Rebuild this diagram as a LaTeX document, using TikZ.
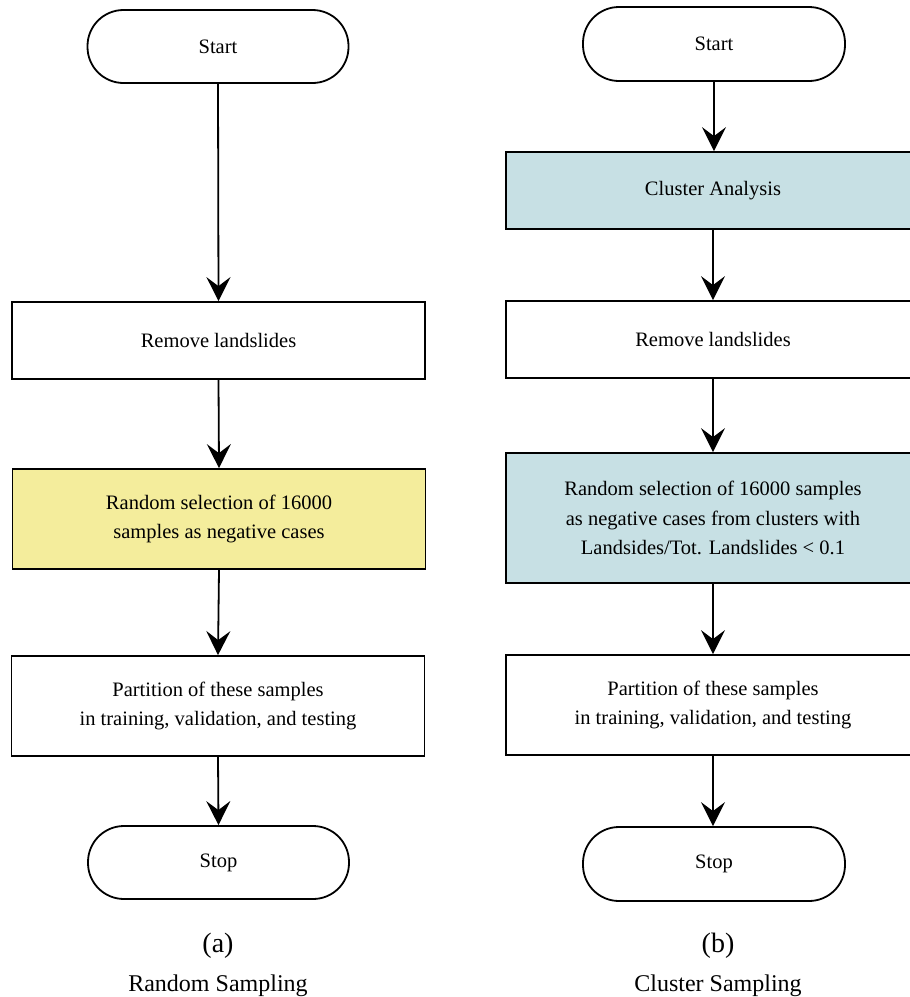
\documentclass[tikz,border=0pt]{standalone}
\usepackage{fontspec}
\setmainfont{Liberation Serif}
\usetikzlibrary{arrows.meta}
\definecolor{boxyellow}{RGB}{244,237,156}
\definecolor{boxblue}{RGB}{199,224,228}
\tikzset{
  base/.style={draw=black, line width=1.8pt, align=center, inner sep=0pt,
    font=\fontsize{20.5}{29.5}\selectfont},
  pill/.style={base, rounded corners=36pt, minimum width=261pt, minimum height=73pt},
  procbox/.style={base, minimum width=413pt},
  flow/.style={line width=1.8pt, -{Stealth[length=24pt, width=24pt, inset=9pt]}},
  sub/.style={font=\fontsize{28}{30}\selectfont, inner sep=0pt},
  caption/.style={font=\fontsize{24}{26}\selectfont, inner sep=0pt, anchor=base}
}
\begin{document}
\begin{tikzpicture}[x=1pt,y=-1pt]
\clip (0,0) rectangle (910,997);
\fill[white] (0,0) rectangle (910,997);
% Left column: Random Sampling
\node[pill] (startA) at (218,46.5) {Start};
\node[procbox, minimum height=77pt] (remA) at (218.5,340.5) {Remove landslides};
\node[procbox, minimum height=100pt, fill=boxyellow] (selA) at (219,519) {Random selection of 16000\\samples as negative cases};
\node[procbox, minimum height=100pt] (partA) at (218,706) {Partition of these samples\\in training, validation, and testing};
\node[pill] (stopA) at (218.5,862.5) {Stop};
\node[sub] (labA) at (218,946) {(a)};
\node[caption] (capA) at (218,991) {Random Sampling};
\draw[flow] (startA.south) -- (remA.north);
\draw[flow] (remA.south) -- (selA.north);
\draw[flow] (selA.south) -- (partA.north);
\draw[flow] (partA.south) -- (stopA.north);
% Right column: Cluster Sampling
\node[pill, minimum width=262pt, minimum height=74pt] (startB) at (714,44) {Start};
\node[procbox, minimum width=414pt, minimum height=77pt, fill=boxblue] (clusB) at (713,190.5) {Cluster Analysis};
\node[procbox, minimum width=414pt, minimum height=77pt] (remB) at (713,339.5) {Remove landslides};
\node[procbox, minimum width=414pt, minimum height=130pt, fill=boxblue] (selB) at (713,518) {Random selection of 16000 samples\\as negative cases from clusters with\\Landsides/Tot. Landslides {<} 0.1};
\node[procbox, minimum width=414pt, minimum height=100pt] (partB) at (713,705) {Partition of these samples\\in training, validation, and testing};
\node[pill, minimum width=262pt, minimum height=74pt] (stopB) at (714,864) {Stop};
\node[sub] (labB) at (718,946) {(b)};
\node[caption] (capB) at (718,991) {Cluster Sampling};
\draw[flow] (startB.south) -- (startB.south |- clusB.north);
\draw[flow] (clusB.south) -- (remB.north);
\draw[flow] (remB.south) -- (selB.north);
\draw[flow] (selB.south) -- (partB.north);
\draw[flow] (partB.south) -- (partB.south |- stopB.north);
\end{tikzpicture}
\end{document}
